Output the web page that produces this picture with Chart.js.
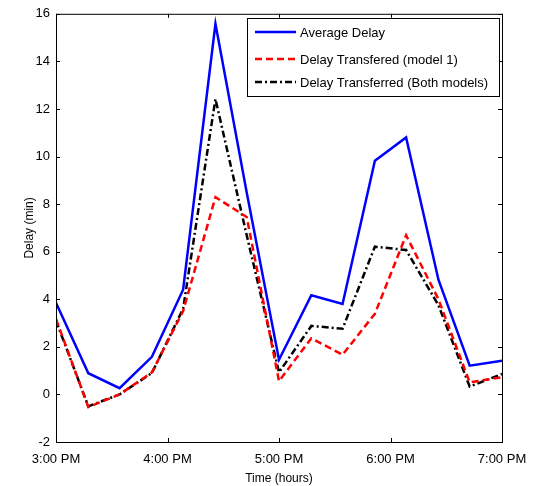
<!DOCTYPE html>
<html>
<head>
<meta charset="utf-8">
<script src="https://cdn.jsdelivr.net/npm/chart.js@4.4.1/dist/chart.umd.min.js"></script>
<style>
  html, body { margin: 0; padding: 0; background: #fff; }
  #wrap { width: 539px; height: 486px; }
</style>
</head>
<body>
<div id="wrap"><canvas id="delay-chart"></canvas></div>
<script>
// time of day in hours (15 = 3 PM)
var times = [15.00, 15.29, 15.57, 15.86, 16.14, 16.43, 16.71, 17.00, 17.29, 17.57, 17.86, 18.14, 18.43, 18.71, 19.00];
var avgDelay = [3.85, 0.89, 0.26, 1.58, 4.4, 15.58, 8.5, 1.46, 4.17, 3.8, 9.82, 10.8, 4.82, 1.21, 1.42];
var model1 = [3.17, -0.53, 0.0, 0.93, 3.5, 8.29, 7.46, 0.56, 2.36, 1.67, 3.39, 6.69, 4.0, 0.51, 0.72];
var bothModels = [3.1, -0.5, 0.0, 0.9, 3.6, 12.42, 6.7, 0.93, 2.88, 2.76, 6.21, 6.07, 3.75, 0.33, 0.86];
var xTickValues = [15, 16, 17, 18, 19];
var xTickLabels = ["3:00 PM", "4:00 PM", "5:00 PM", "6:00 PM", "7:00 PM"];
var seriesNames = ["Average Delay", "Delay Transfered (model 1)", "Delay Transferred (Both models)"];

function pts(ys) {
  return ys.map(function (y, i) { return { x: times[i], y: y }; });
}

var fontName = "'Liberation Sans', Arial, sans-serif";

// MATLAB style box, inward ticks and legend inside the axes
var matlabBox = {
  id: 'matlabBox',
  afterDraw: function (chart) {
    var c = chart.ctx, a = chart.chartArea;
    var xs = chart.scales.x, ys = chart.scales.y;
    c.save();
    c.strokeStyle = '#000';
    c.lineWidth = 1;
    c.strokeRect(a.left + 0.5, a.top + 0.5, a.right - a.left, a.bottom - a.top);
    c.beginPath();
    xTickValues.forEach(function (v) {
      var px = Math.round(xs.getPixelForValue(v)) + 0.5;
      c.moveTo(px, a.bottom); c.lineTo(px, a.bottom - 4);
      c.moveTo(px, a.top); c.lineTo(px, a.top + 4);
    });
    ys.ticks.forEach(function (t) {
      var py = Math.round(ys.getPixelForValue(t.value)) + 0.5;
      c.moveTo(a.left, py); c.lineTo(a.left + 4, py);
      c.moveTo(a.right, py); c.lineTo(a.right - 4, py);
    });
    c.stroke();

    // legend
    var lx = 247, ly = 18, lw = 252, lh = 78;
    c.fillStyle = '#fff';
    c.fillRect(lx, ly, lw, lh);
    c.strokeRect(lx + 0.5, ly + 0.5, lw, lh);
    var rows = [32, 59, 82];
    c.font = '13px ' + fontName;
    c.textBaseline = 'middle';
    chart.data.datasets.forEach(function (ds, i) {
      c.beginPath();
      c.strokeStyle = ds.borderColor;
      c.lineWidth = ds.borderWidth;
      c.setLineDash(ds.borderDash || []);
      c.moveTo(lx + 8, rows[i]); c.lineTo(lx + 49, rows[i]);
      c.stroke();
      c.setLineDash([]);
      c.fillStyle = '#000';
      c.fillText(seriesNames[i], lx + 53, rows[i] + 1);
    });
    c.restore();
  }
};

var ctx = document.getElementById("delay-chart").getContext('2d');
var myChart = new Chart(ctx, {
    type: 'line',
    data: {
      datasets: [{
          label: seriesNames[0],
          data: pts(avgDelay),
          borderColor: '#0000ff',
          borderWidth: 2.5,
          pointRadius: 0,
          tension: 0
      }, {
          label: seriesNames[1],
          data: pts(model1),
          borderColor: '#ff0000',
          borderWidth: 2.5,
          borderDash: [7, 4],
          pointRadius: 0,
          tension: 0
      }, {
          label: seriesNames[2],
          data: pts(bothModels),
          borderColor: '#000000',
          borderWidth: 2.5,
          borderDash: [7, 3, 2, 3],
          pointRadius: 0,
          tension: 0
      }]
    },
    options: {
      responsive: true,
      maintainAspectRatio: false,
      animation: false,
      layout: { padding: { left: 20, right: 37, top: 10, bottom: 0 } },
      plugins: {
        legend: { display: false },
        tooltip: { enabled: false }
      },
      scales: {
        x: {
          type: 'linear',
          min: 15,
          max: 19,
          grid: { display: false, drawTicks: false },
          border: { display: false },
          afterBuildTicks: function (s) {
            s.ticks = xTickValues.map(function (v) { return { value: v }; });
          },
          afterFit: function (s) { s.height = 44; },
          ticks: {
            color: '#000',
            padding: 10,
            maxRotation: 0,
            font: { family: fontName, size: 13 },
            callback: function (v) {
              var i = xTickValues.indexOf(v);
              return i >= 0 ? xTickLabels[i] : '';
            }
          },
          title: {
            display: true,
            text: 'Time (hours)',
            color: '#000',
            padding: { top: 0, bottom: 0 },
            font: { family: fontName, size: 12 }
          }
        },
        y: {
          min: -2,
          max: 16,
          grid: { display: false, drawTicks: false },
          border: { display: false },
          afterFit: function (s) { s.width = 36; },
          ticks: {
            stepSize: 2,
            color: '#000',
            padding: 6,
            font: { family: fontName, size: 13 }
          },
          title: {
            display: true,
            text: 'Delay (min)',
            color: '#000',
            padding: { top: 2, bottom: 0 },
            font: { family: fontName, size: 12 }
          }
        }
      }
    },
    plugins: [matlabBox]
});
</script>
</body>
</html>
